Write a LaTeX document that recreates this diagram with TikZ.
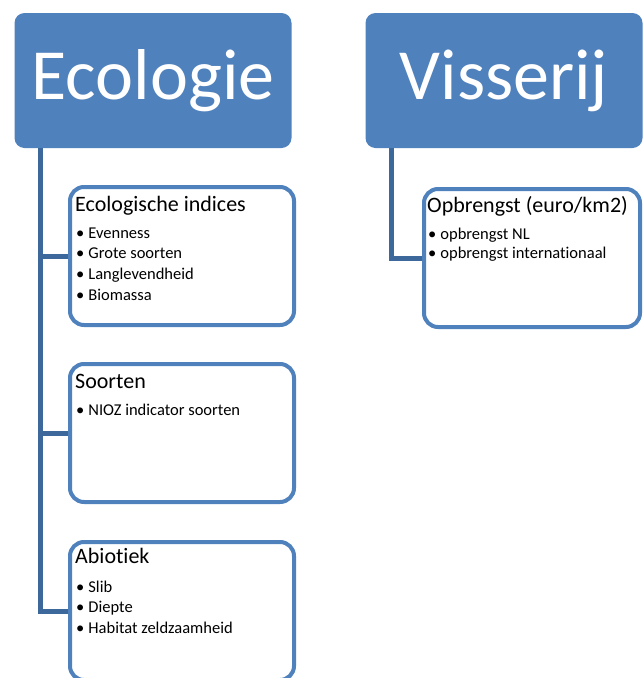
\documentclass[tikz,border=0pt]{standalone}
\usepackage{fontspec}
\setmainfont{Carlito}[Ligatures=CommonOff]
\usetikzlibrary{positioning, calc}
\definecolor{headblue}{HTML}{4F81BD}
\definecolor{linkblue}{HTML}{3C689C}

\begin{document}
\begin{tikzpicture}[
		x=1pt, y=-1pt,
		% Style for the two heading blocks
		head/.style={
			rectangle, rounded corners=10pt, fill=headblue,
			text=white, inner sep=0pt,
			minimum width=277pt, minimum height=135pt,
			font=\fontsize{72}{80}\selectfont
		},
		% Style for the white sub blocks
		subbox/.style={
			rectangle, rounded corners=14pt, draw=headblue,
			line width=4pt, fill=white, anchor=north west,
			minimum width=224pt, minimum height=138pt
		},
		boxtitle/.style={anchor=base west, inner sep=0pt, font=\fontsize{22}{25}\selectfont},
		bulletline/.style={anchor=base west, inner sep=0pt, font=\fontsize{16.5}{19}\selectfont},
		link/.style={draw=linkblue, line width=5pt}
		]
		\useasboundingbox (0,0) rectangle (643,678);
		
		% --- HEADINGS ---
		\node[head] (eco) at (153, 80.5) {Ecologie};
		\node[head] (vis) at (504, 80.5) {Visserij};
		
		% --- ECOLOGIE BRANCH ---
		\node[subbox] (indices) at (68, 185) {};
		\node[boxtitle] (indices-t) at ($(indices.north west)+(7, 26)$) {Ecologische indices};
		\foreach \t [count=\i] in {Evenness, Grote soorten, Langlevendheid, Biomassa}
			\node[bulletline] (indices-\i) at ($(indices.north west)+(8, 32.5+20.7*\i)$) {\textbullet\hspace{4pt}\t};
		
		\node[subbox] (soorten) at (68, 362) {};
		\node[boxtitle] (soorten-t) at ($(soorten.north west)+(7, 26)$) {Soorten};
		\node[bulletline] (soorten-1) at ($(soorten.north west)+(8, 53.2)$) {\textbullet\hspace{4pt}NIOZ indicator soorten};
		
		\node[subbox] (abiotiek) at (68, 540) {};
		\node[boxtitle] (abiotiek-t) at ($(abiotiek.north west)+(7, 23)$) {Abiotiek};
		\foreach \t [count=\i] in {Slib, Diepte, Habitat zeldzaamheid}
			\node[bulletline] (abiotiek-\i) at ($(abiotiek.north west)+(8, 31.5+20.5*\i)$) {\textbullet\hspace{4pt}\t};
		
		% --- VISSERIJ BRANCH ---
		\node[subbox, minimum width=216pt] (opbrengst) at (422, 187) {};
		\node[boxtitle] (opbrengst-t) at ($(opbrengst.north west)+(5, 25)$) {Opbrengst (euro/km2)};
		\foreach \t [count=\i] in {opbrengst NL, opbrengst internationaal}
			\node[bulletline] (opbrengst-\i) at ($(opbrengst.north west)+(6, 33+19*\i)$) {\textbullet\hspace{4pt}\t};
		
		% --- CONNECTORS ---
		\draw[link] ([xshift=26pt]eco.south west) |- (indices.west);
		\draw[link] ([xshift=26pt]eco.south west) |- (soorten.west);
		\draw[link] ([xshift=26pt]eco.south west) |- (abiotiek.west);
		\draw[link] ([xshift=26pt]vis.south west) |- (opbrengst.west);
		
	\end{tikzpicture}
\end{document}
